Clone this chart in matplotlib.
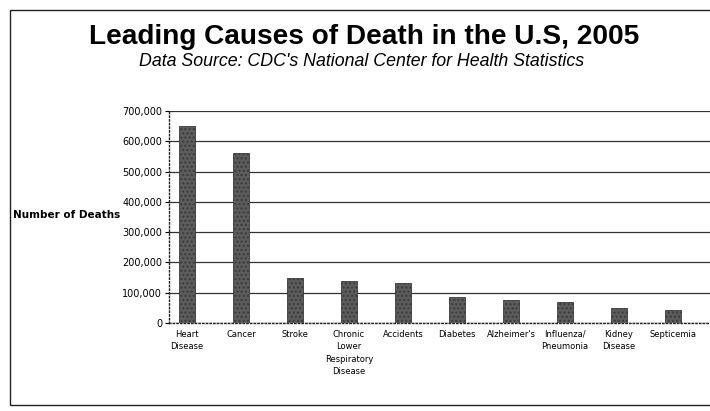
import numpy as np
import matplotlib
matplotlib.use("Agg")
import matplotlib.pyplot as plt
from matplotlib.patches import Rectangle
from matplotlib.ticker import FuncFormatter

# data
causes = ["Heart\nDisease", "Cancer", "Stroke", "Chronic\nLower\nRespiratory\nDisease",
          "Accidents", "Diabetes", "Alzheimer's", "Influenza/\nPneumonia",
          "Kidney\nDisease", "Septicemia"]
deaths = [652000, 562000, 150000, 140000, 132000, 85000, 75000, 68000, 50000, 42000]
yticks = [0, 100000, 200000, 300000, 400000, 500000, 600000, 700000]

title = "Leading Causes of Death in the U.S, 2005"
subtitle = "Data Source: CDC's National Center for Health Statistics"

fig = plt.figure(figsize=(7.1, 4.11), dpi=100)
fig.patch.set_facecolor("white")

# outer chart frame (runs off the right edge like the scan)
frame = Rectangle((10 / 710, 6 / 411), 1.2, (405 - 10) / 411, transform=fig.transFigure,
                  fill=False, edgecolor="#222222", linewidth=1.0, clip_on=False)
fig.patches.append(frame)

ax = fig.add_axes([169 / 710, 1 - 323 / 411, 1 - 169 / 710, (323 - 111) / 411])
x = np.arange(len(causes))
ax.bar(x, deaths, width=0.29, color="#5c5c5c", edgecolor="#3a3a3a",
       hatch="....", linewidth=0.6, zorder=3)

ax.set_xlim(-0.333, 9.685)
ax.set_ylim(0, 700000)
ax.set_yticks(yticks)
ax.yaxis.set_major_formatter(FuncFormatter(lambda v, p: f"{int(v):,}"))
ax.set_xticks(x)
ax.set_xticklabels(causes, fontsize=6, linespacing=1.5)
ax.tick_params(axis="y", labelsize=7, length=3, width=0.8, pad=2)
ax.tick_params(axis="x", length=0, pad=5)

ax.yaxis.grid(True, color="#333333", linewidth=0.9, zorder=0)
ax.set_axisbelow(True)
for s in ["top", "right"]:
    ax.spines[s].set_visible(False)
for s in ["left", "bottom"]:
    ax.spines[s].set_linestyle(":")
    ax.spines[s].set_color("#222222")
    ax.spines[s].set_linewidth(1.0)

fig.text(13 / 710, 1 - 215 / 411, "Number of Deaths", fontsize=7.5, fontweight="bold",
         ha="left", va="center")

fig.text(364 / 710, 1 - 37 / 411, title, fontsize=20.2, fontweight="bold",
         family="Liberation Sans", ha="center", va="center")
fig.text(362 / 710, 1 - 62 / 411, subtitle, fontsize=12.8, style="italic",
         family="Liberation Sans", ha="center", va="center")

fig.savefig("out.png", dpi=100)
